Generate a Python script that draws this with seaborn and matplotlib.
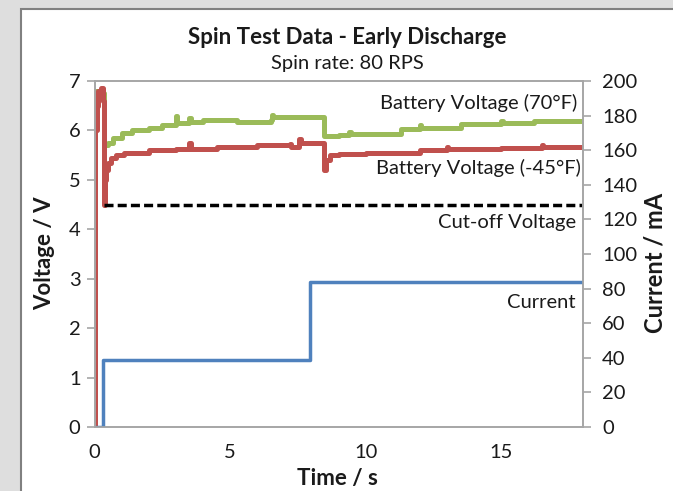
import matplotlib
matplotlib.use("Agg")
import matplotlib.pyplot as plt
import matplotlib.patches as mpatches
import seaborn as sns

# Battery voltage at 70 F (time in s, volts)
t_warm = [0.00, 0.03, 0.12, 0.18, 0.30, 0.36, 0.50, 0.70, 1.00, 1.40, 2.00, 2.50,
          3.00, 3.05, 3.50, 3.55, 4.00, 5.20, 5.25, 6.50, 6.55, 6.60, 8.45, 9.00,
          9.40, 9.45, 11.3, 12.0, 12.05, 13.5, 15.0, 15.05, 16.2, 18.0]
v_warm = [6.55, 6.80, 6.65, 6.80, 6.75, 5.70, 5.75, 5.85, 5.95, 6.00, 6.05, 6.10,
          6.30, 6.15, 6.25, 6.17, 6.21, 6.21, 6.18, 6.22, 6.32, 6.28, 5.88, 5.90,
          5.97, 5.92, 6.03, 6.10, 6.05, 6.13, 6.20, 6.15, 6.20, 6.20]

# Battery voltage at -45 F
t_cold = [0.00, 0.02, 0.08, 0.12, 0.25, 0.30, 0.34, 0.38, 0.42, 0.50, 0.60, 0.80,
          1.10, 2.00, 3.00, 3.50, 3.55, 4.50, 6.00, 7.20, 7.25, 7.55, 7.60, 8.45,
          8.55, 8.70, 9.00, 10.0, 12.0, 13.0, 13.05, 15.0, 16.5, 16.55, 18.0]
v_cold = [0.00, 6.00, 6.50, 6.80, 6.85, 6.60, 4.50, 5.00, 5.20, 5.35, 5.45, 5.50,
          5.55, 5.60, 5.62, 5.75, 5.63, 5.66, 5.70, 5.72, 5.66, 5.82, 5.74, 5.20,
          5.40, 5.50, 5.52, 5.55, 5.60, 5.66, 5.62, 5.65, 5.70, 5.66, 5.66]

# Current draw (mA)
t_current = [0.0, 0.30, 7.96, 18.0]
i_current = [0.0, 38.5, 84.0, 84.0]

# Cut-off voltage
t_cutoff = [0.34, 18.0]
v_cutoff = [4.5, 4.5]

x_ticks = [0, 5, 10, 15]
v_ticks = [0, 1, 2, 3, 4, 5, 6, 7]
i_ticks = [0, 20, 40, 60, 80, 100, 120, 140, 160, 180, 200]

sns.set_theme(style="white")
plt.rcParams["font.family"] = ["Lato", "DejaVu Sans"]

GREEN = "#9bbb59"
RED = "#c0504d"
BLUE = "#4f81bd"
GRID = "#a6a6a6"
TXT = "#1a1a1a"

fig = plt.figure(figsize=(6.73, 4.91), dpi=100)
fig.patch.set_facecolor("#dedede")
# white chart panel with border, behind the axes
fig.patches.append(mpatches.Rectangle((21 / 673, -0.01), 1.0, 1 - 9 / 491 + 0.01,
                                      transform=fig.transFigure, facecolor="white",
                                      edgecolor="#808080", lw=1.5, zorder=-10))

ax = fig.add_axes([94.5 / 673, 1 - 427 / 491, (582.5 - 94.5) / 673, (427 - 81) / 491])
ax.set_facecolor("none")

sns.lineplot(x=t_warm, y=v_warm, ax=ax, color=GREEN, lw=3.6, drawstyle="steps-post",
             estimator=None, sort=False)
sns.lineplot(x=t_cold, y=v_cold, ax=ax, color=RED, lw=3.6, drawstyle="steps-post",
             estimator=None, sort=False)
sns.lineplot(x=t_cutoff, y=v_cutoff, ax=ax, color="black", lw=2.5,
             linestyle=(0, (2.6, 1.2)), estimator=None, sort=False)

ax.set_xlim(0, 18)
ax.set_ylim(0, 7)
ax.set_xticks(x_ticks)
ax.set_yticks(v_ticks)

ax2 = ax.twinx()
sns.lineplot(x=t_current, y=i_current, ax=ax2, color=BLUE, lw=2.5, drawstyle="steps-post",
             estimator=None, sort=False)
ax2.set_ylim(0, 200)
ax2.set_yticks(i_ticks)

for a in (ax, ax2):
    for s in a.spines.values():
        s.set_color(GRID)
        s.set_linewidth(1.2)
    a.tick_params(direction="out", length=6, width=1.2, color=GRID,
                  labelsize=14.5, labelcolor=TXT, pad=4)
ax.tick_params(axis="x", pad=6)
ax2.tick_params(axis="y", pad=8)

# series labels
lab = dict(ha="right", va="center", fontsize=14.5, color=TXT)
ax.text(17.8, 6.55, "Battery Voltage (70°F)", **lab)
ax.text(17.95, 5.24, "Battery Voltage (-45°F)", **lab)
ax.text(17.75, 4.14, "Cut-off Voltage", **lab)
ax.text(17.75, 2.52, "Current", **lab)

fig.text(347 / 673, 1 - 37 / 491, "Spin Test Data - Early Discharge", ha="center",
         va="center", fontsize=16, fontweight="bold", color=TXT)
fig.text(347 / 673, 1 - 64 / 491, "Spin rate: 80 RPS", ha="center", va="center",
         fontsize=14.5, color=TXT)
fig.text(45 / 673, 1 - 253 / 491, "Voltage / V", rotation=90, ha="center", va="center",
         fontsize=16, fontweight="bold", color=TXT)
fig.text(655 / 673, 1 - 263 / 491, "Current / mA", rotation=90, ha="center", va="center",
         fontsize=17, fontweight="bold", color=TXT)
fig.text(337 / 673, 1 - 479 / 491, "Time / s", ha="center", va="center",
         fontsize=16, fontweight="bold", color=TXT)

fig.savefig("out.png", dpi=100, facecolor=fig.get_facecolor())
